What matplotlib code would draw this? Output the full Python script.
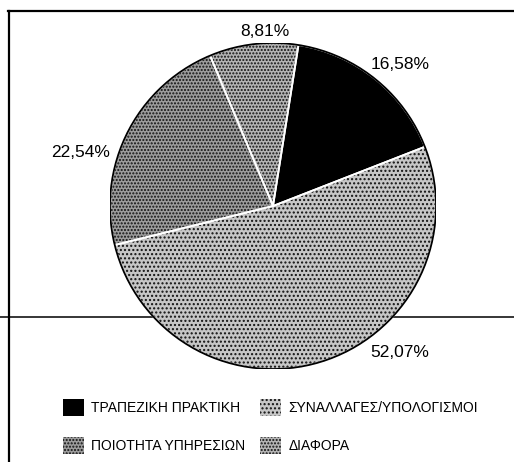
import matplotlib.pyplot as plt
from matplotlib.lines import Line2D
from matplotlib.patches import Circle

plt.rcParams['font.family'] = ['Liberation Sans', 'DejaVu Sans']
plt.rcParams['hatch.linewidth'] = 1.0

# data
categories = ['ΤΡΑΠΕΖΙΚΗ ΠΡΑΚΤΙΚΗ', 'ΣΥΝΑΛΛΑΓΕΣ/ΥΠΟΛΟΓΙΣΜΟΙ',
              'ΠΟΙΟΤΗΤΑ ΥΠΗΡΕΣΙΩΝ', 'ΔΙΑΦΟΡΑ']
values = [16.58, 52.07, 22.54, 8.81]
pct_labels = ['16,58%', '52,07%', '22,54%', '8,81%']

# style (grainy grey fills of the scanned original)
face = ['black', '#c6c6c6', '#9c9c9c', '#b4b4b4']
hatches = [None, '....', '.....', '.....']
label_pos = [(0.78, 0.87), (0.78, -0.90), (-1.18, 0.33), (-0.05, 1.07)]

W, H = 514, 462
fig = plt.figure(figsize=(W / 100, H / 100), dpi=100)

# frame lines from the scanned page
fig.add_artist(Line2D([8 / W, 1], [1 - 11 / H, 1 - 11 / H], color='black', lw=1.6))
fig.add_artist(Line2D([9 / W, 9 / W], [0, 1 - 11 / H], color='black', lw=1.6))
fig.add_artist(Line2D([0, 1], [1 - 317 / H, 1 - 317 / H], color='black', lw=1.1, zorder=-1))

ax = fig.add_axes([110 / W, 1 - 369 / H, 326 / W, 326 / H])
wedges, _ = ax.pie(values, startangle=81, counterclock=False, colors=face,
                   wedgeprops=dict(linewidth=0))
for w, h in zip(wedges, hatches):
    if h:
        w.set_hatch(h)
        w.set_edgecolor('#111111')

# white separators between slices and black outline
ax.pie(values, startangle=81, counterclock=False, colors=['none'] * 4,
       wedgeprops=dict(linewidth=1.3, edgecolor='white', facecolor='none'))
ax.add_patch(Circle((0, 0), 1, fill=False, edgecolor='black', lw=1.3))
ax.set_xlim(-1, 1)
ax.set_ylim(-1, 1)
ax.axis('off')

for (x, y), t in zip(label_pos, pct_labels):
    ax.text(x, y, t, ha='center', va='center', fontsize=12.5)

# legend: row-wise order as in the reference
order = [0, 2, 1, 3]
fig.legend([wedges[i] for i in order], [categories[i] for i in order],
           ncol=2, loc='upper left', bbox_to_anchor=(63 / W, 1 - 399 / H),
           frameon=False, fontsize=10, borderpad=0, borderaxespad=0,
           handlelength=1.5, handleheight=1.5, handletextpad=0.55,
           columnspacing=1.05, labelspacing=1.5)

fig.savefig('out.png', dpi=100)
